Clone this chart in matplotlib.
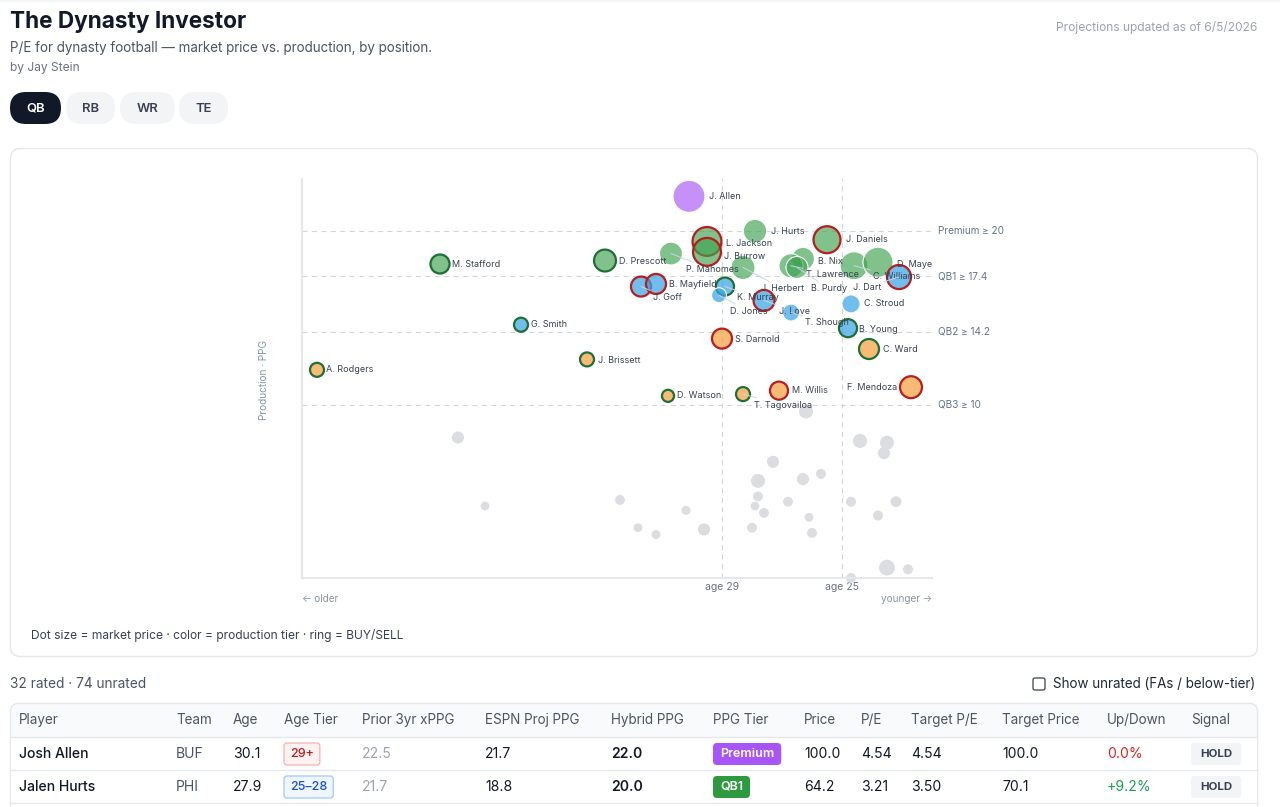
import matplotlib
matplotlib.use('Agg')
import matplotlib.pyplot as plt
from matplotlib.patches import FancyBboxPatch, Rectangle
from matplotlib.colors import to_rgba

plt.rcParams['font.family'] = ['Inter', 'DejaVu Sans']

# ---------------- data ----------------
players = ['J. Allen', 'J. Hurts', 'L. Jackson', 'J. Burrow', 'P. Mahomes', 'D. Prescott',
           'M. Stafford', 'J. Goff', 'B. Mayfield', 'K. Murray', 'D. Jones', 'J. Herbert',
           'J. Love', 'T. Shough', 'B. Nix', 'T. Lawrence', 'B. Purdy', 'J. Daniels',
           'C. Williams', 'D. Maye', 'J. Dart', 'C. Stroud', 'B. Young', 'C. Ward',
           'F. Mendoza', 'S. Darnold', 'J. Brissett', 'G. Smith', 'A. Rodgers',
           'D. Watson', 'T. Tagovailoa', 'M. Willis']
ages = [30.1, 27.9, 29.5, 29.5, 30.7, 32.9,
        38.4, 31.7, 31.2, 28.9, 29.1, 28.3,
        27.6, 26.7, 26.3, 26.7, 26.5, 25.5,
        24.6, 23.8, 23.1, 24.7, 24.8, 24.1,
        22.7, 29.0, 33.5, 35.7, 42.5,
        30.8, 28.3, 27.1]
hybrid_ppg = [22.0, 20.0, 19.4, 18.8, 18.7, 18.3,
              18.1, 16.8, 16.95, 16.8, 16.3, 17.9,
              16.0, 15.3, 18.4, 18.0, 17.9, 19.5,
              18.0, 18.2, 17.35, 15.8, 14.4, 13.2,
              11.0, 13.8, 12.6, 14.6, 12.0,
              10.5, 10.6, 10.8]
prices = [100.0, 64.2, 87, 83, 62, 58,
          46, 50, 50, 42, 29, 67,
          54, 37, 62, 67, 58, 79,
          83, 92, 67, 42, 42, 50,
          58, 50, 25, 25, 25,
          17, 25, 42]
ppg_tiers = ['Premium', 'QB1', 'QB1', 'QB1', 'QB1', 'QB1',
             'QB1', 'QB2', 'QB2', 'QB2', 'QB2', 'QB1',
             'QB2', 'QB2', 'QB1', 'QB1', 'QB1', 'QB1',
             'QB1', 'QB1', 'QB2', 'QB2', 'QB2', 'QB3',
             'QB3', 'QB3', 'QB3', 'QB2', 'QB3',
             'QB3', 'QB3', 'QB3']
signals = ['HOLD', 'HOLD', 'SELL', 'SELL', 'HOLD', 'BUY',
           'BUY', 'SELL', 'SELL', 'BUY', 'HOLD', 'HOLD',
           'SELL', 'HOLD', 'HOLD', 'HOLD', 'HOLD', 'SELL',
           'HOLD', 'HOLD', 'SELL', 'HOLD', 'BUY', 'BUY',
           'SELL', 'SELL', 'BUY', 'BUY', 'BUY',
           'BUY', 'BUY', 'SELL']

unrated_ages = [26.2, 37.8, 24.4, 23.5, 23.6, 27.3, 27.8, 26.3, 25.7, 36.9,
                32.4, 27.8, 27.9, 26.8, 27.6, 30.2, 24.7, 23.2, 23.8, 26.1,
                31.8, 31.2, 29.6, 28.0, 26.0, 23.5, 22.8, 24.7]
unrated_ppg = [9.6, 8.1, 7.9, 7.8, 7.2, 6.7, 5.6, 5.7, 6.0, 4.15,
               4.5, 4.7, 4.15, 4.4, 3.75, 3.9, 4.4, 4.4, 3.6, 3.5,
               2.9, 2.5, 2.8, 2.9, 2.6, 0.6, 0.5, 0.0]
unrated_prices = [25, 17, 25, 25, 17, 17, 25, 17, 8, 3,
                  8, 8, 3, 8, 8, 4, 8, 12, 8, 3,
                  3, 4, 17, 8, 8, 33, 8, 8]
unrated_total = 74

tier_names = ['Premium', 'QB1', 'QB2', 'QB3']
tier_thresholds = [20, 17.4, 14.2, 10]
age_marks = [29, 25]

table_columns = ['Player', 'Team', 'Age', 'Age Tier', 'Prior 3yr xPPG', 'ESPN Proj PPG',
                 'Hybrid PPG', 'PPG Tier', 'Price', 'P/E', 'Target P/E', 'Target Price',
                 'Up/Down', 'Signal']
table_players = ['Josh Allen', 'Jalen Hurts']
table_team = ['BUF', 'PHI']
table_age = [30.1, 27.9]
table_age_tier = ['29+', '25–28']
table_prior = [22.5, 21.7]
table_espn = [21.7, 18.8]
table_hybrid = [22.0, 20.0]
table_ppg_tier = ['Premium', 'QB1']
table_price = [100.0, 64.2]
table_pe = [4.54, 3.21]
table_target_pe = [4.54, 3.50]
table_target_price = [100.0, 70.1]
table_updown = [0.0, 9.2]
table_signal = ['HOLD', 'HOLD']

# ---------------- layout / style ----------------
W, H = 1280, 807
PT = 0.72  # points per pixel


def fs(px):
    return px * PT


tier_face = {'Premium': ('#a855f7', 0.65), 'QB1': ('#3da24f', 0.65),
             'QB2': ('#3aa5e6', 0.72), 'QB3': ('#f59e3b', 0.70)}
ring_color = {'SELL': '#b91c1c', 'BUY': '#1f6f35'}

# label offsets in px relative to circle centre: (dx, dy-down, leader line, ha)
label_layout = {
    'J. Allen': (20, 0, False, 'left'), 'J. Hurts': (16, 0, False, 'left'),
    'L. Jackson': (19, 2, False, 'left'), 'J. Burrow': (17, 5, False, 'left'),
    'P. Mahomes': (15, 16, True, 'left'), 'D. Prescott': (14, 1, False, 'left'),
    'M. Stafford': (12, 0, False, 'left'), 'J. Goff': (12, 11, True, 'left'),
    'B. Mayfield': (13, 1, False, 'left'), 'K. Murray': (12, 11, True, 'left'),
    'D. Jones': (11, 16, True, 'left'), 'J. Herbert': (18, 21, True, 'left'),
    'J. Love': (15, 11, True, 'left'), 'T. Shough': (14, 10, True, 'left'),
    'B. Nix': (15, 3, False, 'left'), 'T. Lawrence': (15, 9, True, 'left'),
    'B. Purdy': (14, 21, True, 'left'), 'J. Daniels': (19, 0, False, 'left'),
    'C. Williams': (19, 11, True, 'left'), 'D. Maye': (19, 2, False, 'left'),
    'J. Dart': (-18, 10, True, 'right'), 'C. Stroud': (13, 0, False, 'left'),
    'B. Young': (11, 1, False, 'left'), 'C. Ward': (14, 0, False, 'left'),
    'F. Mendoza': (-14, 0, False, 'right'), 'S. Darnold': (13, 1, False, 'left'),
    'J. Brissett': (11, 1, False, 'left'), 'G. Smith': (10, 0, False, 'left'),
    'A. Rodgers': (9, 0, False, 'left'), 'D. Watson': (9, 0, False, 'left'),
    'T. Tagovailoa': (11, 11, True, 'left'), 'M. Willis': (13, 0, False, 'left'),
}


def marker_area(price):
    r = 4 + 0.12 * price          # radius in px
    return (2 * r * PT) ** 2


fig = plt.figure(figsize=(W / 100, H / 100), dpi=100)
fig.patch.set_facecolor('white')
bg = fig.add_axes([0, 0, 1, 1])
bg.set_xlim(0, W)
bg.set_ylim(H, 0)
bg.axis('off')

# faint top shadow
for i, a in enumerate([0.10, 0.06, 0.03]):
    bg.add_patch(Rectangle((0, i), W, 1, fc='#9ca3af', ec='none', alpha=a))

# header
bg.text(10, 22, 'The Dynasty Investor', fontsize=fs(22.6), fontweight='bold',
        color='#111827', va='center')
bg.text(10, 48, 'P/E for dynasty football — market price vs. production, by position.',
        fontsize=fs(13.4), color='#4b5563', va='center')
bg.text(10, 68, 'by Jay Stein', fontsize=fs(12), color='#6b7280', va='center')
bg.text(1257, 27, 'Projections updated as of 6/5/2026', fontsize=fs(12),
        color='#9ca3af', ha='right', va='center')

# tabs
tabs = [('QB', 10, 61, True), ('RB', 66, 115, False), ('WR', 120, 175, False),
        ('TE', 179, 228, False)]
for name, x0, x1, active in tabs:
    bg.add_patch(FancyBboxPatch((x0, 92), x1 - x0, 32,
                                boxstyle='round,pad=0,rounding_size=16',
                                fc='#111827' if active else '#f3f4f6', ec='none'))
    bg.text((x0 + x1) / 2, 108.5, name, fontsize=fs(13), fontweight='semibold',
            color='white' if active else '#374151', ha='center', va='center')

# chart card
bg.add_patch(FancyBboxPatch((10.5, 148.5), 1247, 508,
                            boxstyle='round,pad=0,rounding_size=10',
                            fc='white', ec='#e5e7eb', lw=1))
bg.text(31, 636, 'Dot size = market price · color = production tier · ring = BUY/SELL',
        fontsize=fs(12), color='#374151', va='center')
bg.text(264, 380, 'Production · PPG', rotation=90, fontsize=fs(10),
        color='#8293b8', ha='center', va='center')

# main scatter axes
ax = fig.add_axes([302 / W, (H - 578) / H, 630 / W, 399 / H])
ax.set_facecolor('none')
ax.set_xlim(43, 22)
ax.set_ylim(0, 23)
for s in ['top', 'right']:
    ax.spines[s].set_visible(False)
for s in ['left', 'bottom']:
    ax.spines[s].set_color('#e5e7eb')
    ax.spines[s].set_linewidth(1.5)
ax.set_yticks([])
ax.set_xticks(age_marks)
ax.set_xticklabels([f'age {a}' for a in age_marks], fontsize=fs(10.5), color='#6b7280')
ax.tick_params(axis='x', length=0, pad=3)

for name, t in zip(tier_names, tier_thresholds):
    ax.plot([43, 22], [t, t], color='#d1d5db', lw=0.8, ls=(0, (4.5, 4)), zorder=1,
            clip_on=False)
    ax.annotate(f'{name} ≥ {t:g}', xy=(1, t), xycoords=('axes fraction', 'data'),
                xytext=(6 * PT, 0), textcoords='offset points', va='center',
                fontsize=fs(10), color='#64748b')
for a in age_marks:
    ax.axvline(a, color='#d1d5db', lw=0.8, ls=(0, (4.5, 4)), zorder=1)

ax.annotate('← older', xy=(0, 0), xycoords='axes fraction', xytext=(0, -21 * PT),
            textcoords='offset points', ha='left', va='center', fontsize=fs(10),
            color='#8a94a6')
ax.annotate('younger →', xy=(1, 0), xycoords='axes fraction', xytext=(0, -21 * PT),
            textcoords='offset points', ha='right', va='center', fontsize=fs(10),
            color='#8a94a6')

# unrated dots
ax.scatter(unrated_ages, unrated_ppg, s=[marker_area(p) for p in unrated_prices],
           c='#dcdde1', edgecolors='none', clip_on=False, zorder=2)

# rated dots
faces, edges, lws = [], [], []
for tier, sig in zip(ppg_tiers, signals):
    col, al = tier_face[tier]
    faces.append(to_rgba(col, al))
    if sig in ring_color:
        edges.append(ring_color[sig])
        lws.append(1.6)
    else:
        edges.append('white')
        lws.append(0.8)
ax.scatter(ages, hybrid_ppg, s=[marker_area(p) for p in prices], c=faces,
           edgecolors=edges, linewidths=lws, clip_on=False, zorder=3)

for name, a, p in zip(players, ages, hybrid_ppg):
    dx, dy, leader, ha = label_layout[name]
    kw = {}
    if leader:
        kw['arrowprops'] = dict(arrowstyle='-', color='#cbd5e1', lw=0.7,
                                shrinkA=0, shrinkB=0)
    ax.annotate(name, xy=(a, p), xytext=(dx * PT, -dy * PT), textcoords='offset points',
                ha=ha, va='center', fontsize=fs(9), color='#374151', zorder=4, **kw)

# below card
bg.text(10, 684, f'{len(players)} rated · {unrated_total} unrated', fontsize=fs(13.7),
        color='#4b5563', va='center')
bg.add_patch(FancyBboxPatch((1033, 678), 12, 12, boxstyle='round,pad=0,rounding_size=2',
                            fc='white', ec='#4b5563', lw=1))
bg.text(1053, 684, 'Show unrated (FAs / below-tier)', fontsize=fs(13.4),
        color='#1f2937', va='center')

# table
bg.add_patch(FancyBboxPatch((10.5, 703.5), 1247, 200,
                            boxstyle='round,pad=0,rounding_size=8',
                            fc='#f9fafb', ec='#e5e7eb', lw=1))
bg.add_patch(Rectangle((11.2, 737), 1245.6, 80, fc='white', ec='none'))
for yy in [737, 770, 803]:
    bg.plot([11, 1257], [yy, yy], color='#e5e7eb', lw=1)

col_x = [19, 176, 233, 284, 362, 485, 611, 713, 804, 861, 911, 1002, 1107, 1191]
for cx, name in zip(col_x, table_columns):
    bg.text(cx, 720, name, fontsize=fs(13.5), color='#4b5563', va='center')

renderer = fig.canvas.get_renderer()


def badge(x, y, text, fc, ec, tc, size, weight, padx, h, rad):
    t = bg.text(x + padx, y, text, fontsize=fs(size), color=tc, fontweight=weight,
                va='center', ha='left', zorder=5)
    bb = t.get_window_extent(renderer=renderer)
    w = bb.width + 2 * padx
    bg.add_patch(FancyBboxPatch((x, y - h / 2), w, h,
                                boxstyle=f'round,pad=0,rounding_size={rad}',
                                fc=fc, ec=ec, lw=0.8, zorder=4))


age_tier_style = {'29+': ('#fef2f2', '#fca5a5', '#b91c1c'),
                  '25–28': ('#eff6ff', '#93c5fd', '#1d4ed8')}
ppg_tier_style = {'Premium': '#a855f7', 'QB1': '#2e9a3f'}
row_y = [754, 787]
for i, y in enumerate(row_y):
    bg.text(col_x[0], y, table_players[i], fontsize=fs(14), fontweight='medium',
            color='#111827', va='center')
    bg.text(col_x[1], y, table_team[i], fontsize=fs(14), color='#4b5563', va='center')
    bg.text(col_x[2], y, f'{table_age[i]:.1f}', fontsize=fs(14), color='#111827', va='center')
    fc, ec, tc = age_tier_style[table_age_tier[i]]
    badge(col_x[3], y, table_age_tier[i], fc, ec, tc, 12.5, 'medium', 6, 22, 3)
    bg.text(col_x[4], y, f'{table_prior[i]:.1f}', fontsize=fs(14), color='#9ca3af', va='center')
    bg.text(col_x[5], y, f'{table_espn[i]:.1f}', fontsize=fs(14), color='#111827', va='center')
    bg.text(col_x[6], y, f'{table_hybrid[i]:.1f}', fontsize=fs(14), fontweight='semibold',
            color='#111827', va='center')
    badge(col_x[7], y, table_ppg_tier[i], ppg_tier_style[table_ppg_tier[i]], 'none',
          'white', 12.5, 'semibold', 7, 22, 4)
    bg.text(col_x[8], y, f'{table_price[i]:.1f}', fontsize=fs(14), color='#111827', va='center')
    bg.text(col_x[9], y, f'{table_pe[i]:.2f}', fontsize=fs(14), color='#111827', va='center')
    bg.text(col_x[10], y, f'{table_target_pe[i]:.2f}', fontsize=fs(14), color='#111827', va='center')
    bg.text(col_x[11], y, f'{table_target_price[i]:.1f}', fontsize=fs(14), color='#111827',
            va='center')
    ud = table_updown[i]
    bg.text(col_x[12], y, f'+{ud:.1f}%' if ud > 0 else f'{ud:.1f}%', fontsize=fs(14),
            color='#16a34a' if ud > 0 else '#dc2626', va='center')
    badge(col_x[13], y, table_signal[i], '#f3f4f6', 'none', '#374151', 11.5, 'bold', 9, 22, 4)

fig.savefig('out.png', dpi=100, facecolor='white')
